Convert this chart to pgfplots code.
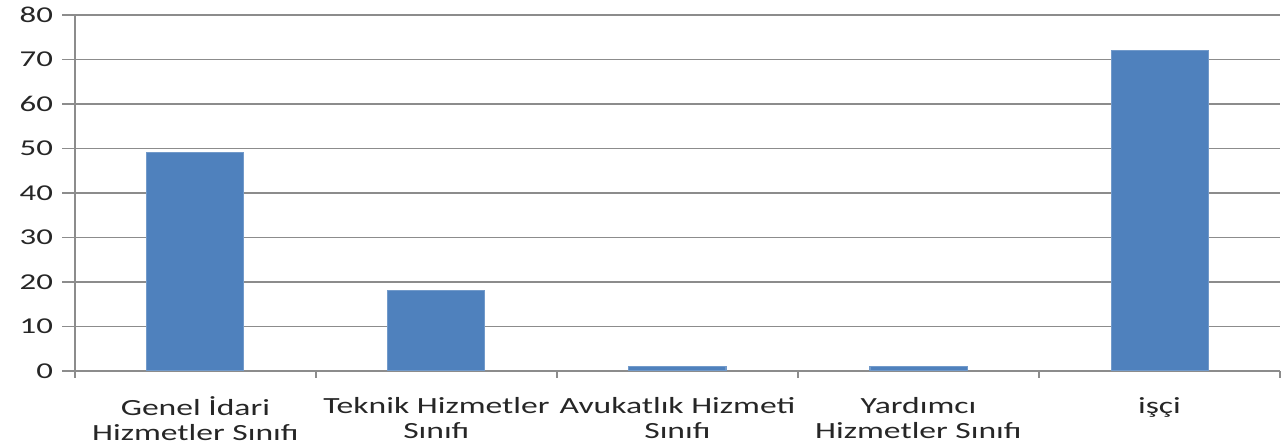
\documentclass[border=0pt]{standalone}
\usepackage{fontspec}
\setmainfont{Carlito}
\usepackage{graphicx}
\usepackage{pgfplots}
\pgfplotsset{compat=1.18}
\definecolor{barblue}{HTML}{4F81BD}
\definecolor{gridgray}{HTML}{8C8C8C}
\definecolor{labelgray}{HTML}{262626}
% labels in the original are stretched sideways
\newcommand{\wide}[1]{\scalebox{1.45}[1]{#1}}
\newcommand{\two}[2]{\scalebox{1.45}[1]{\begin{tabular}{@{}c@{}}#1\\#2\end{tabular}}}
\begin{document}
\begin{tikzpicture}
\path[use as bounding box] (-29.1pt,-29.1pt) rectangle (470.9pt,144.1pt);
\begin{axis}[
  at={(0,0)}, anchor=south west,
  scale only axis, width=468.2pt, height=138.3pt,
  ybar, bar width=37.7pt,
  xmin=-0.5, xmax=4.5, ymin=0, ymax=80,
  axis x line*=bottom, axis y line*=left,
  axis line style={gridgray, line width=0.6pt},
  ymajorgrids, grid style={gridgray, line width=0.6pt},
  tick align=outside,
  major tick length=5pt, minor tick length=2.7pt,
  tick style={gridgray, line width=0.6pt},
  xtick={0,1,2,3,4},
  major x tick style={draw=none},
  minor xtick={-0.5,0.5,1.5,2.5,3.5,4.5},
  xticklabels={
    {\two{Genel İdari}{Hizmetler Sınıfı}},
    {\two{Teknik Hizmetler}{Sınıfı}},
    {\two{Avukatlık Hizmeti}{Sınıfı}},
    {\two{Yardımcı}{Hizmetler Sınıfı}},
    {\two{işçi}{}}
  },
  x tick label style={font=\fontsize{9}{9.4}\selectfont, text=labelgray,
    anchor=north, yshift=-1.6pt},
  ytick={0,10,...,80},
  yticklabel={\wide{\pgfmathprintnumber{\tick}}},
  y tick label style={font=\fontsize{8.8}{9}\selectfont, text=labelgray,
    /pgf/number format/assume math mode=true},
]
\addplot[fill=barblue, draw=barblue!80!white, line width=0.4pt] coordinates {
  (0,49) (1,18) (2,1) (3,1) (4,72)
};
\end{axis}
\end{tikzpicture}
\end{document}
